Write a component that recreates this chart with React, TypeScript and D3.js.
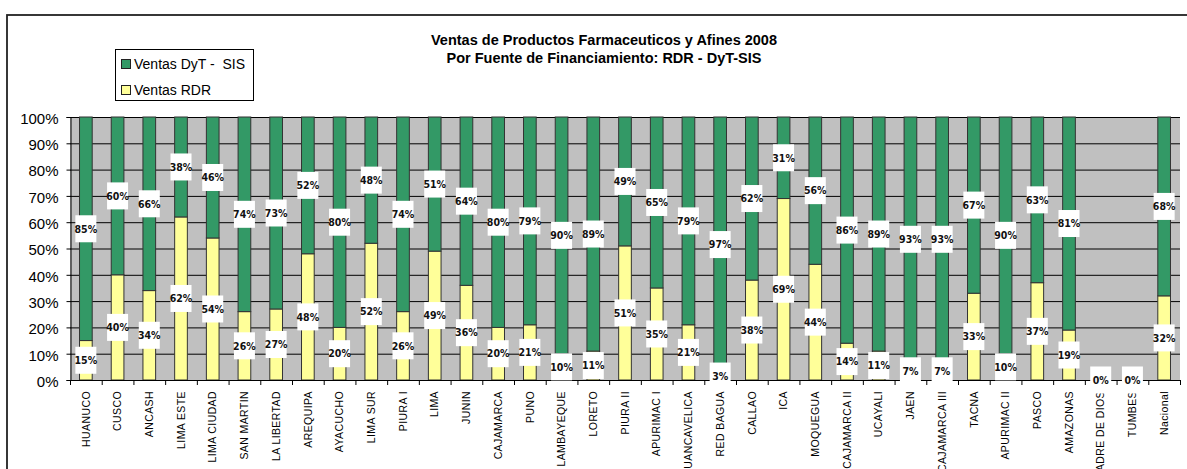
import React, { useEffect, useRef } from "react";
import * as d3 from "d3";

const categories = [
    "HUANUCO", "CUSCO", "ANCASH", "LIMA ESTE", "LIMA CIUDAD", "SAN MARTIN", "LA LIBERTAD",
    "AREQUIPA", "AYACUCHO", "LIMA SUR", "PIURA I", "LIMA", "JUNIN", "CAJAMARCA", "PUNO",
    "LAMBAYEQUE", "LORETO", "PIURA II", "APURIMAC I", "HUANCAVELICA", "RED BAGUA", "CALLAO",
    "ICA", "MOQUEGUA", "CAJAMARCA II", "UCAYALI", "JAEN", "CAJAMARCA III", "TACNA",
    "APURIMAC II", "PASCO", "AMAZONAS", "MADRE DE DIOS", "TUMBES", "Nacional"
];
// % Ventas RDR
const ventasRDR = [15, 40, 34, 62, 54, 26, 27, 48, 20, 52, 26, 49, 36, 20, 21, 10, 11, 51, 35, 21, 3, 38, 69, 44, 14, 11, 7, 7, 33, 10, 37, 19, 0, 0, 32];
// % Ventas DyT - SIS
const ventasDyT = [85, 60, 66, 38, 46, 74, 73, 52, 80, 48, 74, 51, 64, 80, 79, 90, 89, 49, 65, 79, 97, 62, 31, 56, 86, 89, 93, 93, 67, 90, 63, 81, 0, 0, 68];
const yTicks = [0, 10, 20, 30, 40, 50, 60, 70, 80, 90, 100];
const titleLines = ["Ventas de Productos Farmaceuticos y Afines 2008", "Por Fuente de Financiamiento: RDR - DyT-SIS"];
const legendItems = [
    { key: "dyt", label: "Ventas DyT -  SIS", color: "#339966" },
    { key: "rdr", label: "Ventas RDR", color: "#FFFF99" }
];

const width = 1187, height = 469;
const plot = { left: 70, right: 1180, top: 117, bottom: 380 };

const App = () => {
    const ref = useRef(null);
    useEffect(() => {
        const svg = d3.select(ref.current);
        svg.selectAll("*").remove();

        const data = categories.map((c, i) => ({ cat: c, rdr: ventasRDR[i], dyt: ventasDyT[i] }));
        const stacked = d3.stack().keys(["rdr", "dyt"])(data);
        const colors = { rdr: "#FFFF99", dyt: "#339966" };

        const x = d3.scaleBand()
            .domain(categories)
            .range([plot.left, plot.right])
            .paddingInner(0.6)
            .paddingOuter(0.3);
        const y = d3.scaleLinear().domain([0, 100]).range([plot.bottom, plot.top]);
        const step = x.step();

        // chart frame
        svg.append("rect")
            .attr("x", 7).attr("y", 15)
            .attr("width", 1200).attr("height", 480)
            .attr("fill", "#fff").attr("stroke", "#222").attr("stroke-width", 1.8);

        // plot area
        svg.append("rect")
            .attr("x", plot.left).attr("y", plot.top)
            .attr("width", plot.right - plot.left).attr("height", plot.bottom - plot.top)
            .attr("fill", "#C0C0C0");

        svg.append("g")
            .selectAll("line")
            .data(yTicks.slice(1))
            .enter()
            .append("line")
            .attr("x1", plot.left).attr("x2", plot.right)
            .attr("y1", (d) => y(d) + 0.5).attr("y2", (d) => y(d) + 0.5)
            .attr("stroke", "#000").attr("stroke-width", 1);

        // bars
        svg.append("g")
            .selectAll("g")
            .data(stacked)
            .enter()
            .append("g")
            .attr("fill", (s) => colors[s.key])
            .selectAll("rect")
            .data((s) => s.filter((d) => d[1] - d[0] > 0))
            .enter()
            .append("rect")
            .attr("x", (d) => x(d.data.cat))
            .attr("y", (d) => y(d[1]))
            .attr("width", x.bandwidth())
            .attr("height", (d) => y(d[0]) - y(d[1]))
            .attr("stroke", "#333")
            .attr("stroke-width", 1);

        // y axis
        const yAxis = d3.axisLeft(y).tickValues(yTicks).tickSize(4).tickFormat((d) => d + "%");
        const gy = svg.append("g")
            .attr("transform", "translate(" + (plot.left + 0.5) + ",0)")
            .call(yAxis);
        gy.select(".domain").attr("stroke", "#000");
        gy.selectAll(".tick line").attr("stroke", "#000");
        gy.selectAll(".tick text")
            .attr("x", -12)
            .attr("dy", "0.42em")
            .attr("font-family", "Arial, 'Liberation Sans', sans-serif")
            .attr("font-size", 15)
            .attr("fill", "#000");

        // x axis line and ticks at category boundaries
        svg.append("line")
            .attr("x1", plot.left).attr("x2", plot.right)
            .attr("y1", plot.bottom + 0.5).attr("y2", plot.bottom + 0.5)
            .attr("stroke", "#000");
        svg.append("g")
            .selectAll("line")
            .data(d3.range(categories.length + 1))
            .enter()
            .append("line")
            .attr("x1", (i) => plot.left + i * step + 0.5)
            .attr("x2", (i) => plot.left + i * step + 0.5)
            .attr("y1", plot.bottom).attr("y2", plot.bottom + 5)
            .attr("stroke", "#000");

        svg.append("g")
            .selectAll("text")
            .data(categories)
            .enter()
            .append("text")
            .attr("transform", (c) => "translate(" + (x(c) + x.bandwidth() / 2) + "," + (plot.bottom + 11) + ") rotate(-90)")
            .attr("dy", "0.36em")
            .attr("text-anchor", "end")
            .attr("font-family", "Arial, 'Liberation Sans', sans-serif")
            .attr("font-size", 10.5)
            .attr("letter-spacing", 0.4)
            .attr("fill", "#000")
            .text((c) => c);

        // data labels
        const labels = [];
        stacked.forEach((s) => {
            s.forEach((d) => {
                const v = d[1] - d[0];
                if (s.key === "dyt" && v === 0) return;
                labels.push({ cat: d.data.cat, v: v, mid: (d[0] + d[1]) / 2 });
            });
        });
        const lab = svg.append("g")
            .selectAll("g")
            .data(labels)
            .enter()
            .append("g")
            .attr("transform", (d) => "translate(" + (x(d.cat) + x.bandwidth() / 2) + "," + y(d.mid) + ")");
        lab.append("rect")
            .attr("x", -10.5).attr("y", -13.5)
            .attr("width", 21).attr("height", 27)
            .attr("fill", "#fff");
        lab.append("text")
            .attr("text-anchor", "middle")
            .attr("dy", "0.36em")
            .attr("font-family", "'Liberation Sans Narrow', 'Arial Narrow', 'DejaVu Sans Condensed', sans-serif")
            .attr("font-weight", "bold")
            .attr("font-size", 10.5)
            .attr("fill", "#111")
            .text((d) => d.v + "%");

        // title
        svg.append("text")
            .attr("x", 604).attr("y", 45)
            .attr("text-anchor", "middle")
            .attr("font-family", "Arial, 'Liberation Sans', sans-serif")
            .attr("font-weight", "bold")
            .attr("font-size", 14.5)
            .selectAll("tspan")
            .data(titleLines)
            .enter()
            .append("tspan")
            .attr("x", 604)
            .attr("dy", (d, i) => (i === 0 ? 0 : 18))
            .text((d) => d);

        // legend
        const lg = svg.append("g").attr("transform", "translate(115,49)");
        lg.append("rect")
            .attr("x", 0.5).attr("y", 0.5)
            .attr("width", 138).attr("height", 51)
            .attr("fill", "#fff").attr("stroke", "#000");
        const li = lg.selectAll("g.item")
            .data(legendItems)
            .enter()
            .append("g")
            .attr("transform", (d, i) => "translate(6," + (10 + i * 26) + ")");
        li.append("rect")
            .attr("x", 0.5).attr("y", 0.5)
            .attr("width", 9).attr("height", 9)
            .attr("fill", (d) => d.color)
            .attr("stroke", "#222");
        li.append("text")
            .attr("x", 13).attr("y", 10)
            .attr("font-family", "Arial, 'Liberation Sans', sans-serif")
            .attr("font-size", 14)
            .attr("fill", "#000")
            .style("white-space", "pre")
            .text((d) => d.label);
    }, []);

    return (
        <svg ref={ref} width={width} height={height}
            style={{ position: "absolute", left: 0, top: 0, background: "#fff" }} />
    );
};

export default App;
